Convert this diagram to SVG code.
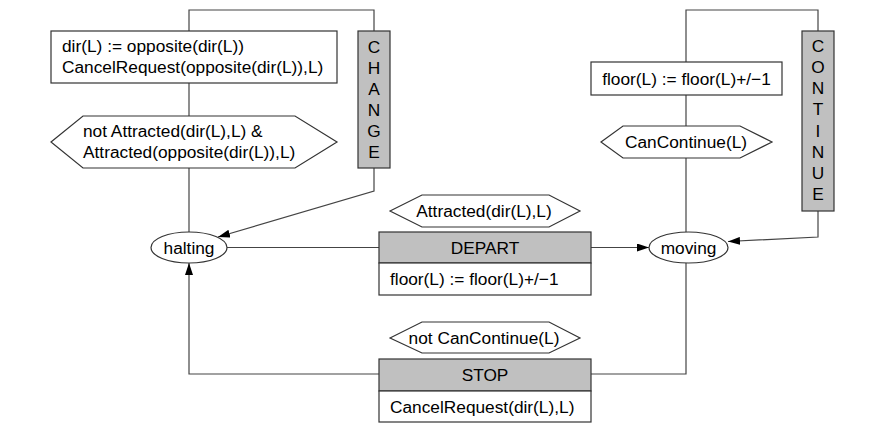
<svg xmlns="http://www.w3.org/2000/svg" width="882" height="445" viewBox="0 0 882 445">
<defs>
<marker id="ah" viewBox="0 0 12 8" refX="12" refY="4" markerWidth="12" markerHeight="8" markerUnits="userSpaceOnUse" orient="auto">
<path d="M0,0 L12,4 L0,8 Z" fill="#000"/>
</marker>
<style>
text{font-family:"Liberation Sans",Arial,sans-serif;font-size:17.3px;fill:#000}
.c{text-anchor:middle}
.box{fill:#fff;stroke:#333;stroke-width:1.2}
.rule{fill:#c0c0c0;stroke:#333;stroke-width:1.2}
.ln{fill:none;stroke:#444;stroke-width:1.2}
</style>
</defs>
<rect width="882" height="445" fill="#fff"/>
<g id="connectors">
<path class="ln" d="M189,31 V10 H374 V31"/>
<path class="ln" d="M189,83 V116"/>
<path class="ln" d="M189,168 V232"/>
<path class="ln" d="M374,168 V191 L218,237" marker-end="url(#ah)"/>
<path class="ln" d="M686,62 V10 H818 V31"/>
<path class="ln" d="M686,95 V126"/>
<path class="ln" d="M686,158 V232"/>
<path class="ln" d="M818,211 V237 L728,241.5" marker-end="url(#ah)"/>
<path class="ln" d="M227,247.5 H379"/>
<path class="ln" d="M591,247.5 H649" marker-end="url(#ah)"/>
<path class="ln" d="M686,263 V374 H591"/>
<path class="ln" d="M379,374 H189 V263" marker-end="url(#ah)"/>
</g>
<g id="halting">
<ellipse class="box" cx="189" cy="247.5" rx="38" ry="15.5"/>
<text class="c" x="189" y="253.5">halting</text>
</g>
<g id="moving">
<ellipse class="box" cx="688.5" cy="247.5" rx="39.5" ry="15.5"/>
<text class="c" x="688.5" y="253.5">moving</text>
</g>
<g id="change-action">
<rect class="box" x="51" y="31" width="286" height="52"/>
<text x="62" y="52">dir(L) := opposite(dir(L))</text>
<text x="62" y="73">CancelRequest(opposite(dir(L)),L)</text>
</g>
<g id="change-guard">
<polygon class="box" points="51,142 83,116 295,116 337,142 295,168 83,168"/>
<text x="83" y="137">not Attracted(dir(L),L) &amp;</text>
<text x="83" y="158">Attracted(opposite(dir(L)),L)</text>
</g>
<g id="change">
<rect class="rule" x="358" y="31" width="32" height="137"/>
<text class="c" x="374" y="52.7">C</text>
<text class="c" x="374" y="73.8">H</text>
<text class="c" x="374" y="94.9">A</text>
<text class="c" x="374" y="116">N</text>
<text class="c" x="374" y="137">G</text>
<text class="c" x="374" y="158">E</text>
</g>
<g id="continue-action">
<rect class="box" x="591" y="62" width="191" height="33"/>
<text class="c" x="686.5" y="84.5">floor(L) := floor(L)+/−1</text>
</g>
<g id="continue-guard">
<polygon class="box" points="601,142 623,126 740,126 772,142 740,158 623,158"/>
<text class="c" x="686" y="148">CanContinue(L)</text>
</g>
<g id="continue">
<rect class="rule" x="802" y="31" width="32" height="180"/>
<text class="c" x="818" y="51.7">C</text>
<text class="c" x="818" y="72.9">O</text>
<text class="c" x="818" y="94.1">N</text>
<text class="c" x="818" y="115.3">T</text>
<text class="c" x="818" y="136.5">I</text>
<text class="c" x="818" y="157.7">N</text>
<text class="c" x="818" y="178.9">U</text>
<text class="c" x="818" y="200">E</text>
</g>
<g id="depart-guard">
<polygon class="box" points="390,211 422,195 549,195 580,211 549,227 422,227"/>
<text class="c" x="484" y="217">Attracted(dir(L),L)</text>
</g>
<g id="depart">
<rect class="rule" x="379" y="232" width="212" height="31"/>
<rect class="box" x="379" y="263" width="212" height="32"/>
<text class="c" x="485" y="253.5">DEPART</text>
<text x="390" y="285">floor(L) := floor(L)+/−1</text>
</g>
<g id="stop-guard">
<polygon class="box" points="390,338 422,322 549,322 580,338 549,353 422,353"/>
<text class="c" x="484" y="344">not CanContinue(L)</text>
</g>
<g id="stop">
<rect class="rule" x="379" y="359" width="212" height="32"/>
<rect class="box" x="379" y="391" width="212" height="31"/>
<text class="c" x="485" y="380.5">STOP</text>
<text x="390" y="412.5">CancelRequest(dir(L),L)</text>
</g>
</svg>
